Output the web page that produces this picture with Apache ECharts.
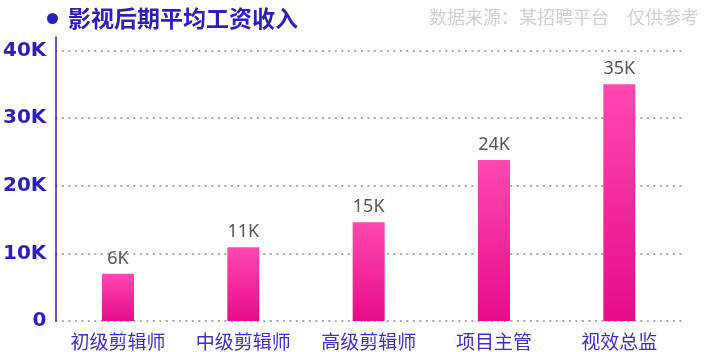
<!DOCTYPE html>
<html>
<head>
<meta charset="utf-8">
<script src="https://cdn.jsdelivr.net/npm/echarts@6/dist/echarts.min.js"></script>
<style>
  html, body { margin: 0; padding: 0; background: #fff; }
  #chart { width: 706px; height: 352px; }
</style>
</head>
<body>
<div id="chart"></div>
<script>
const categories = ['初级剪辑师', '中级剪辑师', '高级剪辑师', '项目主管', '视效总监']
const salaries = [7000, 10900, 14600, 23800, 35000]
const valueLabels = ['6K', '11K', '15K', '24K', '35K']
const titleText = '影视后期平均工资收入'
const sourceText = '数据来源：某招聘平台　仅供参考'

const blue = '#2c1eb6'
const chart = echarts.init(document.getElementById('chart'))

const option = {
  backgroundColor: '#fff',
  title: [
    {
      text: '{dot|}{t|' + titleText + '}',
      left: 42,
      top: 2,
      textStyle: {
        rich: {
          dot: { width: 11, height: 11, borderRadius: 6, backgroundColor: blue },
          t: {
            fontSize: 23,
            fontWeight: 'bold',
            color: blue,
            fontFamily: 'Noto Sans CJK SC',
            padding: [0, 0, 0, 10]
          }
        }
      }
    },
    {
      text: sourceText,
      right: 2,
      top: 3,
      textStyle: {
        fontSize: 18,
        fontWeight: 'normal',
        color: '#cfcfcf',
        fontFamily: 'Noto Sans CJK SC'
      }
    }
  ],
  grid: {
    left: 51,
    right: 24,
    top: 37,
    bottom: 31,
    containLabel: false
  },
  xAxis: {
    type: 'category',
    data: categories,
    axisLine: { show: false },
    axisTick: { show: false },
    axisLabel: {
      color: '#3a2fc6',
      fontSize: 19,
      margin: 11,
      fontFamily: 'Noto Sans CJK SC'
    }
  },
  yAxis: {
    type: 'value',
    min: 0,
    max: 42000,
    interval: 10000,
    axisLine: { show: true, lineStyle: { color: blue, width: 1.5 } },
    axisTick: { show: false },
    axisLabel: {
      color: blue,
      fontSize: 20,
      fontWeight: 'bold',
      fontFamily: 'DejaVu Sans',
      margin: 9,
      showMaxLabel: false,
      formatter: v => (v === 0 ? '0' : v / 1000 + 'K')
    },
    splitLine: {
      show: true,
      showMaxLine: false,
      lineStyle: { color: '#a8a8a8', width: 2, type: [2, 4.5] }
    }
  },
  series: [
    {
      type: 'bar',
      data: salaries,
      barWidth: 32,
      itemStyle: {
        color: new echarts.graphic.LinearGradient(0, 0, 0, 1, [
          { offset: 0, color: '#ff48b0' },
          { offset: 1, color: '#e60c8a' }
        ])
      },
      label: {
        show: true,
        position: 'top',
        distance: 6,
        color: '#555',
        fontSize: 18,
        fontFamily: 'Noto Sans',
        formatter: p => valueLabels[p.dataIndex]
      }
    }
  ]
}

chart.setOption(option)
</script>
</body>
</html>
